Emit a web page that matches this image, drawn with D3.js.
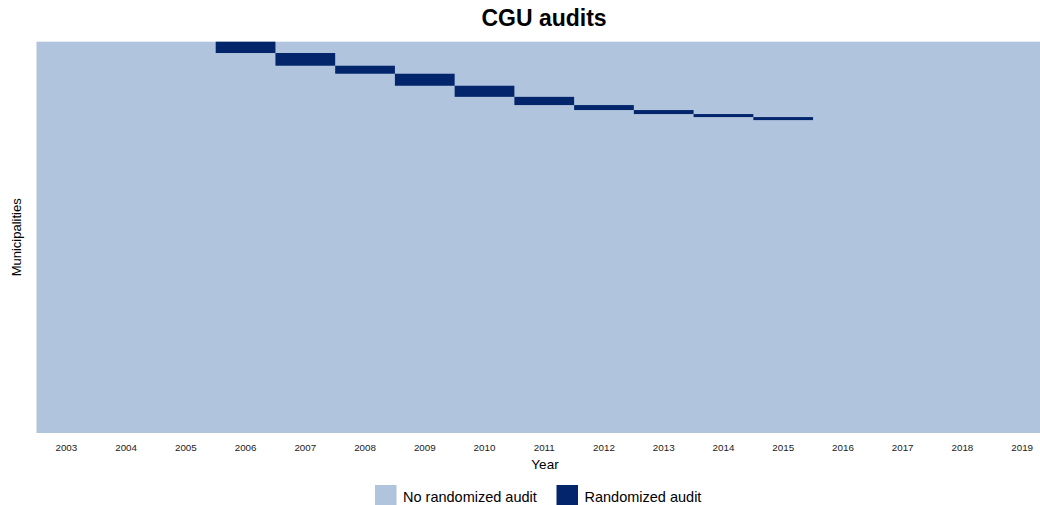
<!DOCTYPE html>
<html>
<head>
<meta charset="utf-8">
<script src="https://cdn.jsdelivr.net/npm/d3@7"></script>
<style>
  body { margin: 0; background: #fff; }
  svg { display: block; font-family: "Liberation Sans", Arial, sans-serif; }
</style>
</head>
<body>
<svg id="chart"></svg>
<script>
// years on the x axis
const years = ["2003", "2004", "2005", "2006", "2007", "2008", "2009", "2010", "2011",
    "2012", "2013", "2014", "2015", "2016", "2017", "2018", "2019"];

// municipalities drawn in each year's lottery
const auditYears = ["2006", "2007", "2008", "2009", "2010", "2011", "2012", "2013", "2014", "2015"];
const auditCounts = [161, 181, 114, 171, 158, 117, 71, 57, 43, 43];
const totalMunicipalities = 5570;

const legendLabels = ["No randomized audit", "Randomized audit"];

const width = 1040;
const height = 505;
const lightColor = "#b0c4de";
const darkColor = "#03256c";

const svg = d3.select("#chart").attr("width", width).attr("height", height);

// plot panel runs a bit past the right edge of the picture
const x = d3.scaleBand().domain(years).range([36.5, 1052]).padding(0);
const y = d3.scaleLinear().domain([0, totalMunicipalities]).range([41.7, 433]);

// background: every municipality/year without an audit (one block, no seams)
svg.append("rect")
    .attr("x", x(years[0]))
    .attr("width", x(years[years.length - 1]) + x.bandwidth() - x(years[0]))
    .attr("y", y(0))
    .attr("height", y(totalMunicipalities) - y(0))
    .attr("fill", lightColor);

// audited municipalities, stacked down the rows in order of the draw
let offset = 0;
const auditRows = auditYears.map((yr, i) => {
    const row = { year: yr, start: offset, end: offset + auditCounts[i] };
    offset += auditCounts[i];
    return row;
});

svg.append("g")
    .selectAll("rect")
    .data(auditRows)
    .join("rect")
    .attr("x", d => x(d.year))
    .attr("width", x.bandwidth())
    .attr("y", d => y(d.start))
    .attr("height", d => y(d.end) - y(d.start))
    .attr("fill", darkColor);

// x axis labels
const xAxis = svg.append("g")
    .attr("transform", `translate(0, ${y(totalMunicipalities)})`)
    .call(d3.axisBottom(x).tickSize(0).tickPadding(11));
xAxis.select(".domain").remove();
xAxis.selectAll("text")
    .style("font-size", "9.8px")
    .style("font-family", "'Liberation Sans', Arial, sans-serif")
    .attr("fill", "#1a1a1a");

// title
svg.append("text")
    .attr("x", 544)
    .attr("y", 25.5)
    .attr("text-anchor", "middle")
    .style("font-size", "23px")
    .style("font-weight", "bold")
    .text("CGU audits");

// axis titles
svg.append("text")
    .attr("x", 545)
    .attr("y", 468.5)
    .attr("text-anchor", "middle")
    .style("font-size", "13.5px")
    .text("Year");

svg.append("text")
    .attr("transform", `translate(21, ${(y(0) + y(totalMunicipalities)) / 2}) rotate(-90)`)
    .attr("text-anchor", "middle")
    .style("font-size", "13px")
    .text("Municipalities");

// legend
const legendPos = [375, 556.5];
const legend = svg.append("g")
    .selectAll("g")
    .data(legendLabels)
    .join("g")
    .attr("transform", (d, i) => `translate(${legendPos[i]}, 485)`);

legend.append("rect")
    .attr("width", 21.5)
    .attr("height", 21.5)
    .attr("fill", (d, i) => i === 0 ? lightColor : darkColor);

legend.append("text")
    .attr("x", 28)
    .attr("y", 16.5)
    .style("font-size", "14.5px")
    .text(d => d);
</script>
</body>
</html>
